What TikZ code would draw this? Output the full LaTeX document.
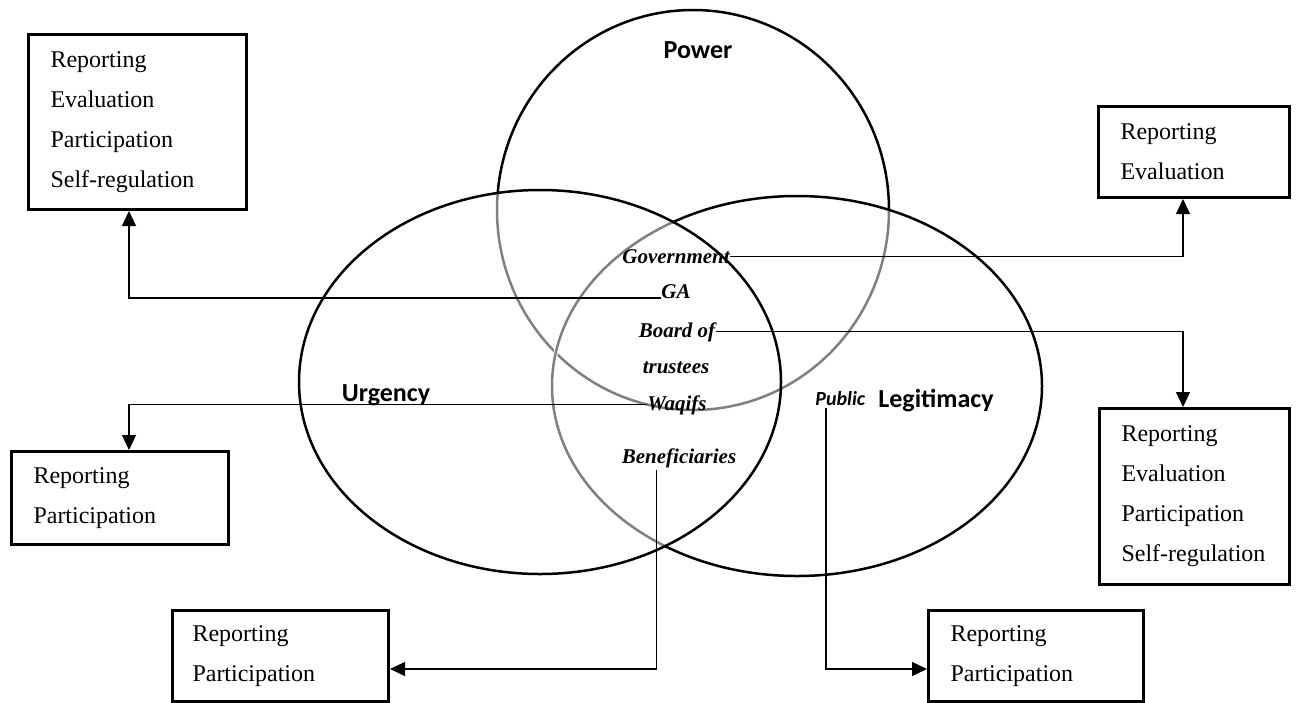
\documentclass[tikz,border=0pt]{standalone}
\usepackage{fontspec}
\setmainfont{Liberation Serif}
\newfontfamily\calibri{Carlito}
\usetikzlibrary{arrows.meta,calc}

\begin{document}
\begin{tikzpicture}[x=0.5pt,y=-0.5pt,
  ring/.style={line width=1.25pt, draw=black},
  ringgrey/.style={line width=1.25pt, draw=black!50},
  ringwipe/.style={line width=2.2pt, draw=white},
  box/.style={draw, line width=1.5pt, rectangle, anchor=north west,
    inner xsep=11pt, inner ysep=0pt, align=left,
    font=\fontsize{12}{20}\selectfont},
  conn/.style={line width=0.6pt, -{Triangle[width=7pt,length=7.5pt]}},
  actor/.style={font=\bfseries\itshape\fontsize{10.5}{12}\selectfont,
    inner sep=0pt, anchor=base},
  attr/.style={font=\calibri\bfseries\fontsize{13}{15}\selectfont, inner sep=0pt}
]
\useasboundingbox (0,0) rectangle (1300,702);

% --- stakeholder attribute ellipses ---
% Power: black outside the other two, grey where it runs inside them
\draw[ring] (693,210) ellipse [x radius=196, y radius=200];
\begin{scope}
  \clip (540,382) ellipse [x radius=241, y radius=192]
        (797,386) ellipse [x radius=245, y radius=190];
  \draw[ringwipe] (693,210) ellipse [x radius=196, y radius=200];
  \draw[ringgrey] (693,210) ellipse [x radius=196, y radius=200];
\end{scope}
% Legitimacy: grey inside Urgency
\draw[ring] (797,386) ellipse [x radius=245, y radius=190];
\begin{scope}
  \clip (540,382) ellipse [x radius=241, y radius=192];
  \draw[ringwipe] (797,386) ellipse [x radius=245, y radius=190];
  \draw[ringgrey] (797,386) ellipse [x radius=245, y radius=190];
\end{scope}
% Urgency
\draw[ring] (540,382) ellipse [x radius=241, y radius=192];

% --- attribute labels ---
\node[attr] (pow) at (698,50) {Power};
\node[attr] (urg) at (386,395) {Urgency};
\node[attr, anchor=base west] (leg) at (878,407) {Legitimacy};
\node[font=\calibri\bfseries\itshape\fontsize{10}{12}\selectfont,
      inner sep=0pt, anchor=base west] (pub) at (815,405) {Public};

% --- stakeholders ---
\node[actor] (gov)   at (676,263) {Government};
\node[actor] (ga)    at (676,298) {GA};
\node[actor] (board) at (677,337) {Board of};
\node[actor] (trust) at (676,373) {trustees};
\node[actor] (waq)   at (677,410) {Waqifs};
\node[actor] (ben)   at (679,463) {Beneficiaries};

% --- accountability mechanisms ---
\node[box, minimum width=109pt, minimum height=87.5pt, text width=87pt]
  (bTL) at (27,33) {Reporting\\Evaluation\\Participation\\Self-regulation};
\node[box, minimum width=95.5pt, minimum height=45.5pt, text width=73.5pt]
  (bTR) at (1097,105) {Reporting\\Evaluation};
\node[box, minimum width=95pt, minimum height=88pt, text width=73pt]
  (bRB) at (1098,407) {Reporting\\Evaluation\\Participation\\Self-regulation};
\node[box, minimum width=108.5pt, minimum height=46.5pt, text width=86.5pt]
  (bL) at (10,450) {Reporting\\Participation};
\node[box, minimum width=108pt, minimum height=45.5pt, text width=88pt, inner xsep=10pt]
  (bBL) at (171,609) {Reporting\\Participation};
\node[box, minimum width=106.5pt, minimum height=45.5pt, text width=85.5pt]
  (bBR) at (927,609) {Reporting\\Participation};

% --- connectors ---
\draw[conn] (gov.east) -| ($(bTR.south west)+(86,0)$);
\draw[conn] (ga.base west) -| ($(bTL.south west)+(102,0)$);
\draw[conn] (board.east) -| ($(bRB.north west)+(85,0)$);
\draw[conn] (waq.west) -| ($(bL.north west)+(119,0)$);
\draw[conn] ($(ben.base west)+(35,7)$) |- ($(bBL.south east)+(0,-34)$);
\draw[conn] ($(pub.base west)+(11,3)$) |- ($(bBR.south west)+(0,-34)$);
\end{tikzpicture}
\end{document}
